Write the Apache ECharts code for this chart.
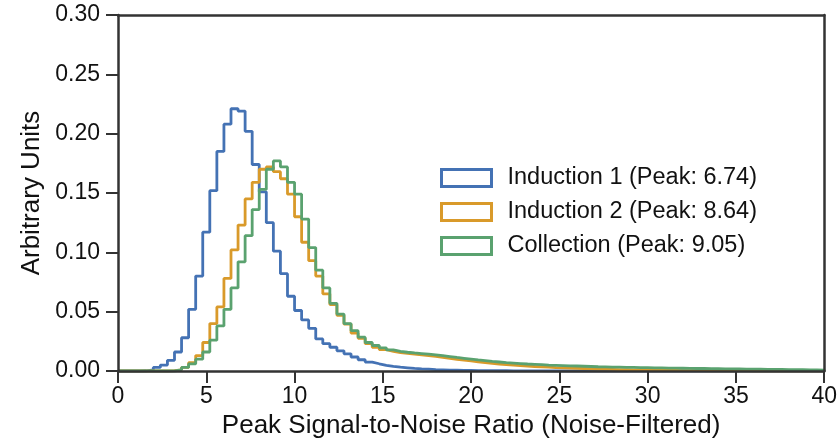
<!DOCTYPE html>
<html>
<head>
<meta charset="utf-8">
<script src="https://cdn.jsdelivr.net/npm/echarts@6/dist/echarts.min.js"></script>
<style>
html,body{margin:0;padding:0;background:#fff;}
#chart{width:840px;height:444px;}
</style>
</head>
<body>
<div id="chart"></div>
<script>
// Histogram bins: 100 bins of width 0.4 from 0 to 40
const binStart = 0;
const binWidth = 0.4;
const binCount = 100;

const seriesNames = [
  'Induction 1 (Peak: 6.74)',
  'Induction 2 (Peak: 8.64)',
  'Collection (Peak: 9.05)'
];

const induction1 = [
  0,0,0,0.0002,0.001,
  0.003,0.005,0.009,0.016,0.028,
  0.052,0.080,0.117,0.152,0.185,
  0.208,0.221,0.219,0.202,0.174,
  0.151,0.125,0.101,0.082,0.063,
  0.051,0.043,0.036,0.027,0.023,
  0.020,0.017,0.0145,0.0118,0.0095,
  0.0075,0.0061,0.0048,0.0039,0.0032,
  0.0027,0.0022,0.0018,0.0015,0.0012,
  0.0010,0.0008,0.0007,0.0006,0.0005,
  0.0004,0.0003,0.0003,0.0002,0.0002,
  0.0001,0.0001,0.0001,0.0001,0.0001,
  0,0,0,0,0, 0,0,0,0,0,
  0,0,0,0,0, 0,0,0,0,0,
  0,0,0,0,0, 0,0,0,0,0,
  0,0,0,0,0, 0,0,0,0,0
];

const induction2 = [
  0,0,0,0,0,
  0,0,0.0003,0.001,0.003,
  0.007,0.013,0.024,0.040,0.054,
  0.078,0.102,0.123,0.145,0.159,
  0.170,0.172,0.168,0.162,0.149,
  0.130,0.1085,0.093,0.080,0.065,
  0.056,0.047,0.0395,0.032,0.0275,
  0.023,0.020,0.018,0.0165,0.0155,
  0.0148,0.0142,0.0136,0.0130,0.0123,
  0.0115,0.0107,0.0099,0.0092,0.0085,
  0.0078,0.0071,0.0065,0.0059,0.0054,
  0.0050,0.0046,0.0042,0.0038,0.0035,
  0.0032,0.0029,0.0027,0.0025,0.0023,
  0.0021,0.0019,0.0017,0.0015,0.0014,
  0.0012,0.0011,0.0010,0.0009,0.0008,
  0.0007,0.0006,0.0005,0.0005,0.0004,
  0.0004,0.0003,0.0003,0.0002,0.0002,
  0.0002,0.0001,0.0001,0.0001,0,
  0,0,0,0,0, 0,0,0,0,0
];

const collection = [
  0,0,0,0,0,
  0,0,0,0.001,0.003,
  0.006,0.010,0.016,0.026,0.038,
  0.052,0.070,0.092,0.114,0.136,
  0.153,0.170,0.177,0.172,0.159,
  0.149,0.128,0.104,0.085,0.070,
  0.057,0.048,0.040,0.034,0.0285,
  0.024,0.0215,0.0195,0.0178,0.0166,
  0.0158,0.0152,0.0147,0.0142,0.0136,
  0.0130,0.0122,0.0114,0.0107,0.0100,
  0.0093,0.0087,0.0081,0.0076,0.0071,
  0.0067,0.0063,0.0059,0.0056,0.0053,
  0.0050,0.0048,0.0046,0.0044,0.0042,
  0.0040,0.0038,0.0036,0.0035,0.0033,
  0.0032,0.0031,0.0030,0.0029,0.0028,
  0.0027,0.0026,0.0025,0.0024,0.0023,
  0.0022,0.0021,0.0021,0.0020,0.0019,
  0.0018,0.0018,0.0017,0.0016,0.0016,
  0.0015,0.0014,0.0014,0.0013,0.0012,
  0.0012,0.0011,0.0010,0.0009,0.0008
];

const xTicks = {min: 0, max: 40, interval: 5};
const yTicks = {min: 0, max: 0.30, interval: 0.05};

const colors = ['#4472b4', '#d99a2a', '#5aa26f'];
const FONT = "'Liberation Sans', Arial, Helvetica, sans-serif";

function stepData(vals) {
  const pts = [];
  for (let i = 0; i < binCount; i++) {
    const x = +(binStart + i * binWidth).toFixed(4);
    pts.push([x, vals[i]]);
  }
  pts.push([+(binStart + binCount * binWidth).toFixed(4), vals[binCount - 1]]);
  pts.push([+(binStart + binCount * binWidth).toFixed(4), 0]);
  return pts;
}

const allVals = [induction1, induction2, collection];

const chart = echarts.init(document.getElementById('chart'), null, {renderer: 'canvas'});

const spine = {color: '#333', width: 2.5};

chart.setOption({
  backgroundColor: '#fff',
  animation: false,
  textStyle: {fontFamily: FONT},
  grid: {left: 118, right: 14, top: 15, bottom: 73, containLabel: false},
  legend: {
    orient: 'vertical',
    left: 435,
    top: 161,
    itemWidth: 50,
    itemHeight: 17,
    itemGap: 10,
    icon: 'rect',
    textStyle: {fontSize: 23.5, color: '#111', fontFamily: FONT, padding: [0, 0, 0, 11]},
    data: seriesNames.map((n, i) => ({
      name: n,
      itemStyle: {color: '#fff', borderColor: colors[i], borderWidth: 3}
    }))
  },
  xAxis: [{
    type: 'value',
    min: xTicks.min, max: xTicks.max, interval: xTicks.interval,
    name: 'Peak Signal-to-Noise Ratio (Noise-Filtered)',
    nameLocation: 'middle',
    nameGap: 42,
    nameTextStyle: {fontSize: 26, color: '#111', fontFamily: FONT},
    axisLine: {show: true, onZero: false, lineStyle: spine},
    axisTick: {show: true, length: 12, lineStyle: {color: '#333', width: 2}},
    axisLabel: {fontSize: 23, color: '#111', margin: 14, fontFamily: FONT},
    splitLine: {show: false},
    z: 10
  }, {
    type: 'value', position: 'top',
    min: xTicks.min, max: xTicks.max,
    axisLine: {show: true, onZero: false, lineStyle: spine},
    axisTick: {show: false}, axisLabel: {show: false}, splitLine: {show: false},
    z: 10
  }],
  yAxis: [{
    type: 'value',
    min: yTicks.min, max: yTicks.max, interval: yTicks.interval,
    name: 'Arbitrary Units',
    nameLocation: 'middle',
    nameGap: 66,
    nameTextStyle: {fontSize: 26, color: '#111', fontFamily: FONT},
    axisLine: {show: true, onZero: false, lineStyle: spine},
    axisTick: {show: true, length: 12, lineStyle: {color: '#333', width: 2}},
    axisLabel: {fontSize: 23, color: '#111', margin: 18, fontFamily: FONT,
      formatter: v => v.toFixed(2)},
    splitLine: {show: false},
    z: 10
  }, {
    type: 'value', position: 'right',
    min: yTicks.min, max: yTicks.max,
    axisLine: {show: true, onZero: false, lineStyle: spine},
    axisTick: {show: false}, axisLabel: {show: false}, splitLine: {show: false},
    z: 10
  }],
  series: seriesNames.map((n, i) => ({
    name: n,
    type: 'line',
    step: 'end',
    showSymbol: false,
    symbol: 'none',
    data: stepData(allVals[i]),
    lineStyle: {color: colors[i], width: 2.8},
    itemStyle: {color: colors[i]},
    z: 2
  }))
});
</script>
</body>
</html>
